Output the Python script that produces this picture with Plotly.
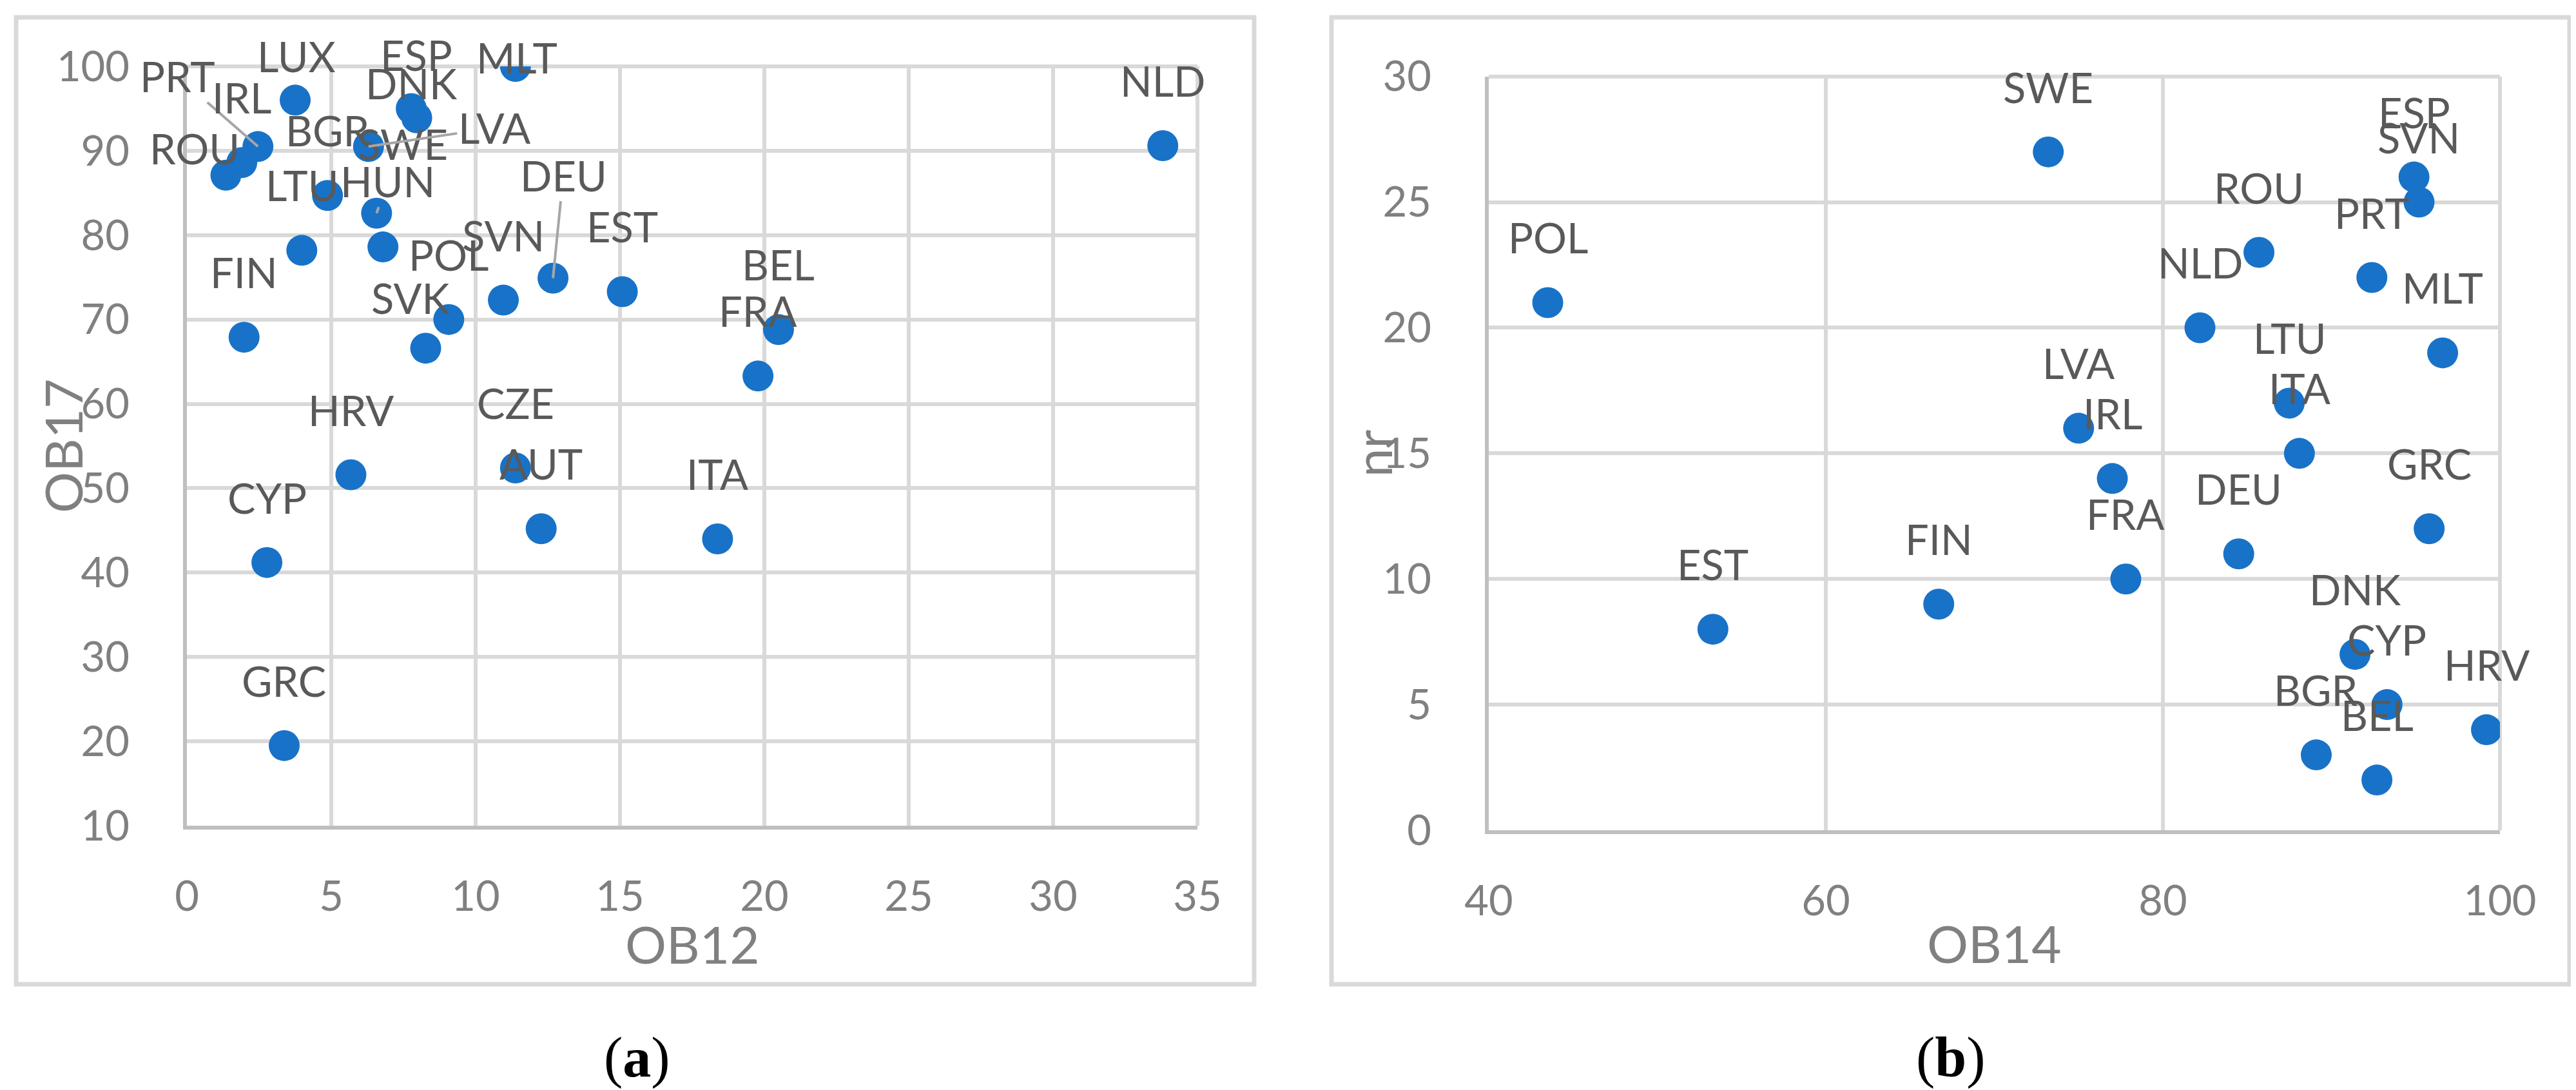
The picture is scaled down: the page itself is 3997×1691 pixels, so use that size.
import plotly.graph_objects as go

# ---------------- data: panel (a) ----------------
a_names = ["LUX", "ESP", "MLT", "PRT", "IRL", "DNK", "ROU", "BGR", "SWE", "LVA",
           "LTU", "HUN", "DEU", "SVN", "EST", "FIN", "POL", "SVK", "BEL", "FRA",
           "HRV", "CZE", "AUT", "ITA", "CYP", "GRC", "NLD"]
a_ob12 = [3.75, 7.77, 11.38, 2.46, 1.90, 7.96, 1.35, 4.87, 6.79, 6.29,
          3.98, 6.57, 12.68, 10.96, 15.08, 1.98, 9.07, 8.27, 20.49, 19.78,
          5.68, 11.38, 12.27, 18.38, 2.77, 3.37, 33.8]
a_ob17 = [96.0, 95.0, 100.0, 90.5, 88.6, 93.9, 87.1, 84.7, 78.6, 90.5,
          78.2, 82.6, 74.9, 72.3, 73.3, 67.9, 70.0, 66.6, 68.8, 63.3,
          51.6, 52.4, 45.2, 44.0, 41.2, 19.5, 90.6]

# ---------------- data: panel (b) ----------------
b_names = ["SWE", "ESP", "SVN", "ROU", "PRT", "NLD", "MLT", "LTU", "ITA", "LVA", "IRL",
           "GRC", "DEU", "FRA", "FIN", "EST", "DNK", "CYP", "HRV", "BGR", "BEL", "POL"]
b_ob14 = [73.2, 94.9, 95.2, 85.7, 92.4, 82.2, 96.6, 87.5, 88.1, 75.0, 77.0,
          95.8, 84.5, 77.8, 66.7, 53.3, 91.4, 93.3, 99.2, 89.1, 92.7, 43.5]
b_nr = [27, 26, 25, 23, 22, 20, 19, 17, 15, 16, 14,
        12, 11, 10, 9, 8, 7, 5, 4, 3, 2, 21]

a_xticks = [0, 5, 10, 15, 20, 25, 30, 35]
a_yticks = [10, 20, 30, 40, 50, 60, 70, 80, 90, 100]
b_xticks = [40, 60, 80, 100]
b_yticks = [0, 5, 10, 15, 20, 25, 30]

# ---------------- styling ----------------
W, H = 3997, 1691
BLUE = "#1872C8"
GRID = "#d9d9d9"
AXLINE = "#bfbfbf"
TICKC = "#808080"
LABELC = "#595959"
FONT = "Lato"
TICKSIZE = 65
LABSIZE = 65
TITLESIZE = 80

DEFAULT_OFF = (0, -101)
# label offsets (pixels) relative to the point; leader=True draws a leader line
a_label_off = {
    "LUX": (2, -68, False), "ESP": (8, -83, False), "MLT": (2, -14, False),
    "PRT": (-125, -109, True), "DNK": (-8, -54, False), "ROU": (-48, -42, False),
    "SWE": (31, -160, False), "LVA": (195, -29, True), "HUN": (17, -50, True),
    "DEU": (16, -160, True), "SVK": (-24, -78, False),
}


def px(x):
    return x / W


def py(y):
    return 1 - y / H


fig = go.Figure()
fig.add_trace(go.Scatter(x=a_ob12, y=a_ob17, mode="markers", xaxis="x", yaxis="y",
                         marker=dict(size=48, color=BLUE, line=dict(width=0)),
                         hoverinfo="skip", showlegend=False))
fig.add_trace(go.Scatter(x=b_ob14, y=b_nr, mode="markers", xaxis="x2", yaxis="y2",
                         marker=dict(size=48, color=BLUE, line=dict(width=0)),
                         hoverinfo="skip", showlegend=False))

axis_common = dict(
    showgrid=True, gridcolor=GRID, gridwidth=6,
    showline=True, linecolor=AXLINE, linewidth=6,
    zeroline=False, ticks="", automargin=False,
    tickfont=dict(family=FONT, size=TICKSIZE, color=TICKC),
    fixedrange=True,
)

fig.update_layout(
    width=W, height=H, autosize=False,
    margin=dict(l=0, r=0, t=0, b=0, pad=0, autoexpand=False),
    paper_bgcolor="white", plot_bgcolor="white",
    showlegend=False,
    xaxis=dict(domain=[px(282), px(1850)], range=[0, 35], tickvals=a_xticks,
               anchor="y", ticklabelstandoff=48, **axis_common),
    yaxis=dict(domain=[py(1273), py(95)], range=[10, 100], tickvals=a_yticks,
               anchor="x", ticklabelstandoff=70, **axis_common),
    xaxis2=dict(domain=[px(2302), px(3871)], range=[40, 100], tickvals=b_xticks,
                anchor="y2", ticklabelstandoff=48, **axis_common),
    yaxis2=dict(domain=[py(1280), py(110.7)], range=[0, 30], tickvals=b_yticks,
                anchor="x2", ticklabelstandoff=70, **axis_common),
)

annotations = []


def add_labels(names, xs, ys, xref, yref, offs):
    for n, x, y in zip(names, xs, ys):
        dx, dy, leader = offs.get(n, (DEFAULT_OFF[0], DEFAULT_OFF[1], False))
        if leader:
            annotations.append(dict(
                x=x, y=y, xref=xref, yref=yref, text=n, showarrow=True,
                ax=dx, ay=dy, arrowhead=0, arrowwidth=4, arrowcolor="#a6a6a6",
                standoff=0, startstandoff=0, xanchor="center", yanchor="middle",
                font=dict(family=FONT, size=LABSIZE, color=LABELC)))
        else:
            annotations.append(dict(
                x=x, y=y, xref=xref, yref=yref, text=n, showarrow=False,
                xshift=dx, yshift=-dy, xanchor="center", yanchor="middle",
                font=dict(family=FONT, size=LABSIZE, color=LABELC)))


add_labels(a_names, a_ob12, a_ob17, "x", "y", a_label_off)
add_labels(b_names, b_ob14, b_nr, "x2", "y2", {})

title_font = dict(family=FONT, size=TITLESIZE, color=TICKC)
annotations += [
    dict(text="OB12", xref="x domain", x=0.5, yref="paper", y=py(1456),
         showarrow=False, xanchor="center", yanchor="middle", font=title_font),
    dict(text="OB17", xref="paper", x=px(83), yref="y domain", y=0.5, textangle=-90,
         xshift=6, showarrow=False, xanchor="center", yanchor="middle", font=title_font),
    dict(text="OB14", xref="x2 domain", x=0.5, yref="paper", y=py(1455),
         showarrow=False, xanchor="center", yanchor="middle", font=title_font),
    dict(text="nr", xref="paper", x=px(2131), yref="y2 domain", y=0.5, textangle=-90,
         xshift=-10, showarrow=False, xanchor="center", yanchor="middle", font=title_font),
    dict(text="(<b>a</b>)", xref="paper", x=px(980), yref="paper", y=py(1632),
         showarrow=False, xanchor="center", yanchor="middle",
         font=dict(family="Liberation Serif", size=88, color="black")),
    dict(text="(<b>b</b>)", xref="paper", x=px(3019), yref="paper", y=py(1632),
         showarrow=False, xanchor="center", yanchor="middle",
         font=dict(family="Liberation Serif", size=88, color="black")),
]
fig.update_layout(annotations=annotations)

# chart-area frames and top/right grid edges
shapes = [
    dict(type="rect", xref="paper", yref="paper", x0=px(17), x1=px(1938),
         y0=py(1519), y1=py(19), line=dict(color=GRID, width=7), layer="below"),
    dict(type="rect", xref="paper", yref="paper", x0=px(2058), x1=px(3979),
         y0=py(1519), y1=py(19), line=dict(color=GRID, width=7), layer="below"),
]
for xr, yr in (("x", "y"), ("x2", "y2")):
    shapes.append(dict(type="line", xref=xr + " domain", yref=yr + " domain",
                       x0=0, x1=1, y0=1, y1=1, line=dict(color=GRID, width=6), layer="below"))
    shapes.append(dict(type="line", xref=xr + " domain", yref=yr + " domain",
                       x0=1, x1=1, y0=0, y1=1, line=dict(color=GRID, width=6), layer="below"))
fig.update_layout(shapes=shapes)

fig.write_html("out.html")
